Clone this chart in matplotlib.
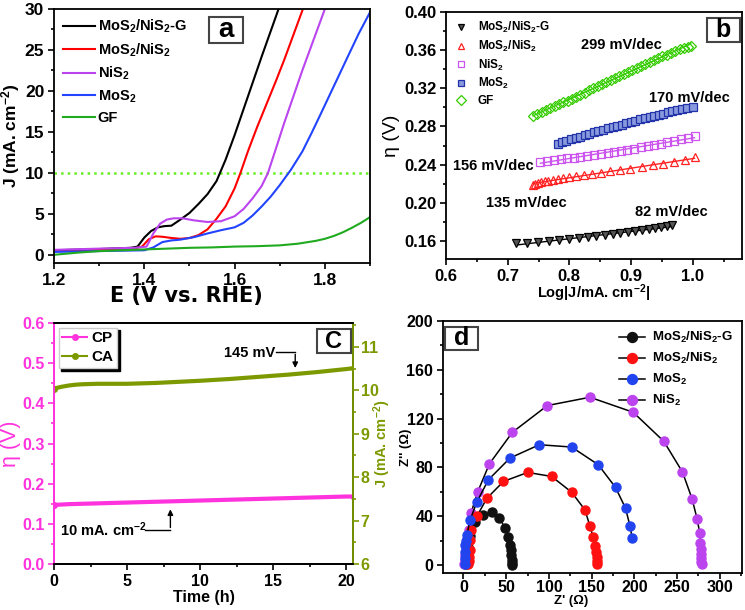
import matplotlib
matplotlib.use('Agg')
import matplotlib.pyplot as plt
import numpy as np
from matplotlib.ticker import MultipleLocator, FormatStrFormatter
from matplotlib.patches import Rectangle
from matplotlib.lines import Line2D

plt.rcParams['font.family'] = ['Liberation Sans', 'DejaVu Sans']
plt.rcParams['font.weight'] = 'bold'
plt.rcParams['axes.labelweight'] = 'bold'
plt.rcParams['mathtext.fontset'] = 'custom'
plt.rcParams['mathtext.rm'] = 'Liberation Sans:bold'
plt.rcParams['mathtext.bf'] = 'Liberation Sans:bold'
plt.rcParams['mathtext.default'] = 'rm'
plt.rcParams['axes.linewidth'] = 1.3

# ---- panel a : LSV ----
E_g = [1.20, 1.30, 1.37, 1.385, 1.40, 1.415, 1.43, 1.445, 1.46, 1.48, 1.50, 1.52, 1.54, 1.56, 1.58, 1.60, 1.62, 1.64, 1.66, 1.68, 1.70]
J_g = [0.55, 0.7, 0.85, 1.0, 2.1, 2.9, 3.35, 3.5, 3.55, 4.3, 5.1, 6.2, 7.4, 9.0, 11.6, 14.6, 17.8, 21.0, 24.2, 27.3, 30.4]
E_mn = [1.20, 1.30, 1.38, 1.395, 1.41, 1.425, 1.44, 1.46, 1.48, 1.50, 1.52, 1.54, 1.56, 1.58, 1.60, 1.613, 1.63, 1.65, 1.67, 1.69, 1.71, 1.73, 1.75]
J_mn = [0.5, 0.65, 0.8, 1.0, 1.9, 2.25, 2.2, 2.05, 1.95, 2.05, 2.4, 3.1, 4.4, 5.9, 8.1, 10.0, 12.7, 15.6, 18.3, 21.0, 23.8, 26.8, 29.8]
E_ni = [1.20, 1.30, 1.38, 1.405, 1.42, 1.435, 1.45, 1.465, 1.485, 1.51, 1.54, 1.57, 1.60, 1.62, 1.64, 1.66, 1.674, 1.69, 1.71, 1.73, 1.75, 1.77, 1.79, 1.80]
J_ni = [0.6, 0.75, 0.85, 1.0, 2.6, 3.8, 4.3, 4.45, 4.45, 4.2, 4.0, 4.1, 4.7, 5.6, 6.9, 8.4, 10.0, 12.7, 16.1, 19.3, 22.5, 25.5, 28.5, 30.0]
E_mo = [1.20, 1.30, 1.40, 1.42, 1.44, 1.46, 1.48, 1.51, 1.54, 1.57, 1.60, 1.62, 1.64, 1.66, 1.68, 1.70, 1.725, 1.75, 1.77, 1.79, 1.82, 1.85, 1.875, 1.90]
J_mo = [0.35, 0.45, 0.55, 0.9, 1.55, 1.75, 1.85, 2.15, 2.6, 3.0, 3.35, 3.9, 4.8, 5.9, 7.1, 8.5, 10.4, 12.6, 14.8, 17.1, 20.6, 24.1, 27.0, 29.6]
E_gf = [1.20, 1.25, 1.30, 1.35, 1.40, 1.45, 1.50, 1.55, 1.60, 1.65, 1.70, 1.74, 1.78, 1.80, 1.82, 1.84, 1.86, 1.88, 1.90]
J_gf = [0.0, 0.25, 0.45, 0.55, 0.65, 0.75, 0.85, 0.9, 1.0, 1.05, 1.15, 1.35, 1.7, 1.95, 2.3, 2.75, 3.3, 3.9, 4.6]

# ---- panel b : Tafel ----
tx_g = [0.713, 0.732, 0.749, 0.767, 0.783, 0.799, 0.815, 0.830, 0.844, 0.857, 0.871, 0.882, 0.895, 0.907, 0.918, 0.929, 0.939, 0.949, 0.958, 0.967]
ty_g = [0.1575, 0.1580, 0.1588, 0.1596, 0.1605, 0.1615, 0.1626, 0.1637, 0.1648, 0.1658, 0.1668, 0.1679, 0.1690, 0.1700, 0.1711, 0.1722, 0.1733, 0.1744, 0.1754, 0.1764]
tx_mn = [0.741, 0.745, 0.749, 0.754, 0.760, 0.766, 0.773, 0.781, 0.790, 0.800, 0.811, 0.823, 0.836, 0.851, 0.866, 0.882, 0.899, 0.917, 0.935, 0.952, 0.970, 0.987, 1.003]
ty_mn = [0.2182, 0.2196, 0.2206, 0.2213, 0.2224, 0.2231, 0.2241, 0.2252, 0.2259, 0.2269, 0.2280, 0.2290, 0.2301, 0.2315, 0.2329, 0.2343, 0.2357, 0.2374, 0.2392, 0.2409, 0.2427, 0.2448, 0.2476]
tx_ni = [0.753, 0.764, 0.775, 0.786, 0.796, 0.807, 0.818, 0.829, 0.840, 0.851, 0.862, 0.872, 0.883, 0.894, 0.905, 0.916, 0.927, 0.938, 0.948, 0.959, 0.970, 0.981, 0.992, 1.003]
ty_ni = [0.2423, 0.2434, 0.2444, 0.2455, 0.2465, 0.2472, 0.2483, 0.2493, 0.2504, 0.2514, 0.2525, 0.2535, 0.2546, 0.2556, 0.2567, 0.2581, 0.2591, 0.2605, 0.2619, 0.2633, 0.2648, 0.2665, 0.2683, 0.2704]
tx_mo = [0.782, 0.788, 0.795, 0.802, 0.810, 0.817, 0.825, 0.832, 0.840, 0.847, 0.855, 0.862, 0.870, 0.877, 0.885, 0.892, 0.900, 0.907, 0.915, 0.922, 0.930, 0.937, 0.945, 0.952, 0.960, 0.967, 0.975, 0.982, 0.990, 1.000]
ty_mo = [0.2620, 0.2633, 0.2648, 0.2665, 0.2679, 0.2693, 0.2708, 0.2722, 0.2738, 0.2752, 0.2768, 0.2781, 0.2794, 0.2806, 0.2820, 0.2834, 0.2848, 0.2862, 0.2876, 0.2889, 0.2900, 0.2910, 0.2922, 0.2935, 0.2947, 0.2958, 0.2970, 0.2980, 0.2992, 0.3005]
tx_gf = [0.741, 0.748, 0.755, 0.762, 0.769, 0.776, 0.783, 0.790, 0.797, 0.804, 0.811, 0.818, 0.825, 0.832, 0.839, 0.846, 0.853, 0.860, 0.867, 0.874, 0.881, 0.888, 0.895, 0.902, 0.909, 0.916, 0.923, 0.930, 0.937, 0.944, 0.951, 0.958, 0.965, 0.972, 0.979, 0.986, 0.993, 0.997]
ty_gf = [0.2905, 0.2930, 0.2952, 0.2972, 0.2992, 0.3012, 0.3032, 0.3052, 0.3072, 0.3093, 0.3114, 0.3135, 0.3156, 0.3178, 0.3200, 0.3222, 0.3244, 0.3266, 0.3288, 0.3310, 0.3332, 0.3353, 0.3374, 0.3395, 0.3416, 0.3436, 0.3456, 0.3476, 0.3496, 0.3516, 0.3535, 0.3554, 0.3572, 0.3590, 0.3607, 0.3623, 0.3638, 0.3645]
slope_labels = ['299 mV/dec', '170 mV/dec', '156 mV/dec', '135 mV/dec', '82 mV/dec']

# ---- panel c : stability ----
t_cp = [0, 1, 2, 4, 6, 8, 10, 12, 14, 16, 18, 20, 20.5]
eta_cp = [0.147, 0.149, 0.150, 0.152, 0.154, 0.156, 0.158, 0.160, 0.162, 0.164, 0.166, 0.168, 0.168]
t_ca = [0, 0.5, 1, 1.5, 2, 3, 5, 7, 10, 12, 14, 16, 18, 20, 20.5]
j_ca = [10.04, 10.08, 10.11, 10.13, 10.14, 10.15, 10.15, 10.17, 10.22, 10.26, 10.31, 10.36, 10.42, 10.49, 10.51]

# ---- panel d : Nyquist ----
zr_g = [3.5, 4.0, 4.5, 5.5, 7.5, 13.7, 23.4, 33.2, 42.1, 48.7, 52.6, 54.6, 55.7, 56.2, 56.5, 56.7, 56.8]
zi_g = [0.5, 4, 9, 15, 24, 35.6, 41.1, 43.3, 38.4, 30.4, 22.8, 16.4, 12.3, 8.2, 4.1, 1.5, 0.3]
zr_mn = [5.5, 6.5, 7.0, 7.5, 8.0, 9.0, 16.0, 27.3, 46.8, 75.2, 103.2, 126.6, 142.2, 148.0, 151.9, 153.9, 155.0, 155.8, 156.2, 156.5]
zi_mn = [0.5, 3.5, 6.8, 12.3, 20.5, 28.8, 40.4, 54.6, 68.5, 75.9, 72.6, 59.7, 45.2, 32.0, 22.7, 15.6, 11.0, 6.8, 3.6, 1.0]
zr_mo = [1.5, 1.2, 1.2, 2.0, 2.5, 4.0, 7.8, 15.6, 29.2, 54.5, 88.8, 126.6, 157.8, 178.0, 189.7, 194.8, 197.5]
zi_mo = [0.5, 5.5, 11, 16.4, 20, 24.7, 37.0, 51.6, 69.9, 87.7, 98.6, 96.7, 82.2, 63.6, 46.6, 32.3, 22.5]
zr_ni = [1.0, 1.2, 1.5, 2.5, 4.0, 6.0, 9.0, 16.8, 30.4, 57.3, 98.2, 148.0, 198.7, 234.5, 256.4, 267.6, 273.5, 276.6, 277.4, 277.8, 278.2, 278.6, 278.6, 279.0]
zi_ni = [0.5, 4, 8, 14, 21, 29, 43, 60.2, 83, 108.8, 130.7, 137.5, 125.2, 101.4, 76.2, 54.3, 37.8, 26.3, 17.8, 12.9, 8.8, 5.5, 2.7, 0.8]

lab_g = r'MoS$_2$/NiS$_2$-G'
lab_mn = r'MoS$_2$/NiS$_2$'
lab_ni = r'NiS$_2$'
lab_mo = r'MoS$_2$'


def ticks(ax, labelsize=10.5, pad=3.0):
    ax.tick_params(which='both', direction='out', top=False, right=False, width=1.2,
                   labelsize=labelsize, pad=pad)
    ax.tick_params(which='major', length=4)
    ax.tick_params(which='minor', length=2.5)


def tag(ax, s, x0, y0, w, h, size):
    ax.add_patch(Rectangle((x0, y0), w, h, transform=ax.transAxes, fc='white', ec='#444444', lw=1.5, zorder=6))
    ax.text(x0 + w / 2, y0 + h / 2, s, transform=ax.transAxes, ha='center', va='center',
            fontsize=size, fontweight='bold', zorder=7)


fig = plt.figure(figsize=(7.45, 6.10), dpi=100)
ax_a = fig.add_axes([0.0725, 0.5689, 0.4242, 0.4164])
ax_b = fig.add_axes([0.5987, 0.5754, 0.3973, 0.4049])
ax_c = fig.add_axes([0.0725, 0.0754, 0.4013, 0.3951])
ax_d = fig.add_axes([0.5946, 0.0607, 0.4013, 0.4131])

# panel a
ax_a.axhline(10, color='#66ee22', ls=':', lw=1.8)
ax_a.plot(E_g, J_g, color='black', lw=1.5, label=lab_g)
ax_a.plot(E_mn, J_mn, color='#ff0000', lw=1.5, label=lab_mn)
ax_a.plot(E_ni, J_ni, color='#bb44ee', lw=1.5, label=lab_ni)
ax_a.plot(E_mo, J_mo, color='#2244ff', lw=1.5, label=lab_mo)
ax_a.plot(E_gf, J_gf, color='#1faa1f', lw=1.5, label='GF')
ax_a.set_xlim(1.2, 1.9)
ax_a.set_ylim(-1, 30)
ax_a.xaxis.set_major_locator(MultipleLocator(0.2))
ax_a.xaxis.set_minor_locator(MultipleLocator(0.1))
ax_a.xaxis.set_major_formatter(FormatStrFormatter('%.1f'))
ax_a.yaxis.set_major_locator(MultipleLocator(5))
ax_a.yaxis.set_minor_locator(MultipleLocator(2.5))
ticks(ax_a, 12.5)
ax_a.set_xlabel('E (V vs. RHE)', fontsize=15, labelpad=-1, family='DejaVu Sans', x=0.42)
ax_a.set_ylabel(r'J (mA. cm$^{-2}$)', fontsize=12.5, labelpad=2)
ax_a.legend(loc='upper left', frameon=False, fontsize=10.5, handlelength=2.2, handletextpad=0.2,
            labelspacing=0.42, borderaxespad=0.2)
tag(ax_a, 'a', 0.4905, 0.8661, 0.1076, 0.1024, 20)

# panel b
series_b = [
    (tx_g, ty_g, 'v', '#555555', 'black', lab_g),
    (tx_mn, ty_mn, '^', 'none', '#ff2222', lab_mn),
    (tx_ni, ty_ni, 's', 'none', '#cc55ee', lab_ni),
    (tx_mo, ty_mo, 's', '#8899dd', '#2233aa', lab_mo),
    (tx_gf, ty_gf, 'D', 'none', '#33cc00', 'GF'),
]
for xs, ys, mk, fc, ec, lab in series_b:
    p = np.polyfit(xs, ys, 1)
    xx = np.array([xs[0], xs[-1]])
    ax_b.plot(xx, np.polyval(p, xx), color=ec, lw=1)
    ax_b.plot(xs, ys, ls='none', marker=mk, ms=5.5, mfc=fc, mec=ec, mew=0.9, label=lab)
ax_b.set_xlim(0.6, 1.08)
ax_b.set_ylim(0.141, 0.40)
ax_b.xaxis.set_major_locator(MultipleLocator(0.1))
ax_b.xaxis.set_minor_locator(MultipleLocator(0.05))
ax_b.xaxis.set_major_formatter(FormatStrFormatter('%.1f'))
ax_b.yaxis.set_major_locator(MultipleLocator(0.04))
ax_b.yaxis.set_minor_locator(MultipleLocator(0.02))
ax_b.yaxis.set_major_formatter(FormatStrFormatter('%.2f'))
ticks(ax_b, 12)
ax_b.set_xlabel(r'Log|J/mA. cm$^{-2}$|', fontsize=10.5, labelpad=-1)
ax_b.set_ylabel('η (V)', fontsize=14, fontweight='normal', labelpad=3)
ax_b.legend(loc='upper left', frameon=False, fontsize=8.5, handlelength=1.2, handletextpad=0.8,
            labelspacing=0.3, borderaxespad=0.3, markerscale=0.85)
ax_b.text(0.884, 0.365, slope_labels[0], fontsize=10.5, ha='center', va='center')
ax_b.text(0.995, 0.3095, slope_labels[1], fontsize=10.5, ha='center', va='center')
ax_b.text(0.676, 0.239, slope_labels[2], fontsize=10.5, ha='center', va='center')
ax_b.text(0.731, 0.200, slope_labels[3], fontsize=10.5, ha='center', va='center')
ax_b.text(0.965, 0.1905, slope_labels[4], fontsize=10.5, ha='center', va='center')
tag(ax_b, 'b', 0.8807, 0.8798, 0.1126, 0.0947, 18)

# panel c
mag = '#ff33dd'
oli = '#7c9a00'
ax_c2 = ax_c.twinx()
ax_c.plot(t_cp, eta_cp, color=mag, lw=3, marker='o', ms=4, markevery=[0, -1])
ax_c2.plot(t_ca, j_ca, color=oli, lw=3, marker='o', ms=4, markevery=[0, -1])
ax_c.set_xlim(0, 20.45)
ax_c.set_ylim(0, 0.6)
ax_c2.set_ylim(6, 11.55)
ax_c.xaxis.set_major_locator(MultipleLocator(5))
ax_c.xaxis.set_minor_locator(MultipleLocator(2.5))
ax_c.yaxis.set_major_locator(MultipleLocator(0.1))
ax_c.yaxis.set_minor_locator(MultipleLocator(0.05))
ax_c2.yaxis.set_major_locator(MultipleLocator(1))
ax_c2.yaxis.set_minor_locator(MultipleLocator(0.5))
ticks(ax_c, 11.5)
ax_c.tick_params(axis='y', which='both', colors=mag)
ax_c2.tick_params(which='both', direction='out', width=1.2, labelsize=11.5, colors=oli, pad=1.5)
ax_c2.tick_params(which='major', length=4)
ax_c2.tick_params(which='minor', length=2.5)
ax_c.spines['left'].set_color(mag)
ax_c2.spines['left'].set_color(mag)
ax_c2.spines['right'].set_color(oli)
ax_c.set_xlabel('Time (h)', fontsize=11.5, labelpad=1)
ax_c.set_ylabel('η (V)', fontsize=15.5, fontweight='normal', color=mag, labelpad=1)
ax_c2.set_ylabel(r'J (mA. cm$^{-2}$)', fontsize=10.5, color=oli, labelpad=-5)
h_cp = Line2D([], [], color=mag, lw=1.5, marker='o', ms=4)
h_ca = Line2D([], [], color=oli, lw=1.5, marker='o', ms=4)
ax_c2.legend([h_cp, h_ca], ['CP', 'CA'], loc='upper left', fontsize=11, handlelength=1.6,
             handletextpad=0.3, labelspacing=0.3, borderaxespad=0.3, borderpad=0.25,
             fancybox=False, edgecolor='#cccccc', framealpha=1,
             shadow={'color': 'black', 'alpha': 1})
ax_c.text(15.1, 0.5245, '145 mV', fontsize=10.5, ha='right', va='center')
ax_c.plot([15.2, 16.5], [0.528, 0.528], color='black', lw=1)
ax_c.annotate('', xy=(16.5, 0.481), xytext=(16.5, 0.529),
              arrowprops=dict(arrowstyle='-|>', color='black', lw=1, mutation_scale=8))
ax_c.text(0.4, 0.0846, r'10 mA. cm$^{-2}$', fontsize=10.5, ha='left', va='center')
ax_c.plot([6.2, 7.96], [0.085, 0.085], color='black', lw=1)
ax_c.annotate('', xy=(7.96, 0.143), xytext=(7.96, 0.084),
              arrowprops=dict(arrowstyle='-|>', color='black', lw=1, mutation_scale=8))
tag(ax_c2, 'C', 0.8786, 0.8743, 0.1137, 0.0996, 17)

# panel d
series_d = [
    (zr_g, zi_g, '#111111', lab_g, 4),
    (zr_mn, zi_mn, '#ff1111', lab_mn, 4),
    (zr_mo, zi_mo, '#2244ee', lab_mo, 5),
    (zr_ni, zi_ni, '#bb44ee', lab_ni, 2),
]
for xs, ys, col, lab, z in series_d:
    ax_d.plot(xs, ys, '-o', color='black', lw=1.1, ms=6.5, mfc=col, mec=col, label=lab, zorder=z)
ax_d.set_xlim(-24, 326)
ax_d.set_ylim(-6.5, 200)
ax_d.xaxis.set_major_locator(MultipleLocator(50))
ax_d.xaxis.set_minor_locator(MultipleLocator(25))
ax_d.yaxis.set_major_locator(MultipleLocator(40))
ax_d.yaxis.set_minor_locator(MultipleLocator(20))
ticks(ax_d, 11.5)
ax_d.tick_params(axis='x', pad=1)
ax_d.set_xlabel("Z' (Ω)", fontsize=9.5, labelpad=0, x=0.43)
ax_d.set_ylabel("Z'' (Ω)", fontsize=9.5, labelpad=-4)
ax_d.legend(loc='upper right', frameon=False, fontsize=9.5, handlelength=2.0, handletextpad=0.5,
            labelspacing=0.45, borderaxespad=0.3, markerscale=1.1)
tag(ax_d, 'd', 0.0067, 0.8849, 0.1114, 0.0925, 18)

fig.savefig('out.png', dpi=100)
